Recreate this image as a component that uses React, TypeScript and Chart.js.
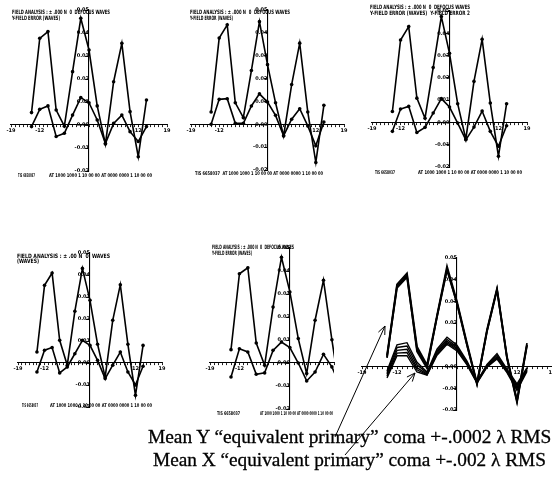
import React, { useEffect, useRef } from "react";
import { Chart, registerables } from "chart.js";

Chart.register(...registerables);

// Field positions (x) shared by every curve
const FIELD = [-14, -12, -10, -8, -6, -4, -2, 0, 2, 4, 6, 8, 10, 12, 14];
const X_LABELED = [-19, -12, 12, 19];
const Y_MIN = -0.02;
const Y_MAX = 0.05;
const Y_STEP = 0.01;

// Panel 1
const P1_UPPER = [0.0054, 0.0377, 0.0406, 0.0065, -0.0005, 0.0232, 0.0464, 0.0326, 0.0083, -0.0083, 0.0188, 0.0355, 0.0058, -0.0138, 0.0109];
const P1_LOWER = [-0.0007, 0.0068, 0.0083, -0.005, -0.0036, 0.0043, 0.0119, 0.0097, 0.0022, -0.008, 0.0007, 0.0043, -0.0029, -0.0072, -0.0007];
// Panel 2
const P2_UPPER = [0.0054, 0.0377, 0.0435, 0.0094, 0.0029, 0.0235, 0.0449, 0.0261, 0.0094, -0.0051, 0.0174, 0.0355, 0.0054, -0.0167, 0.0083];
const P2_LOWER = [0.0, 0.0109, 0.0112, 0.0004, 0.0004, 0.008, 0.0133, 0.0097, 0.0039, -0.005, 0.0022, 0.0068, -0.0007, -0.0094, 0.001];
// Panel 3
const P3_UPPER = [0.0049, 0.037, 0.043, 0.0109, 0.0019, 0.0246, 0.0475, 0.031, 0.0084, -0.0075, 0.0184, 0.0373, 0.0087, -0.0152, 0.0084];
const P3_LOWER = [-0.004, 0.006, 0.0072, -0.0045, -0.0022, 0.0042, 0.0107, 0.0069, -0.0003, -0.0078, -0.0021, 0.0051, -0.004, -0.0107, -0.0015];
// Panel 4
const P4_UPPER = [0.005, 0.0353, 0.0409, 0.0103, -0.001, 0.0235, 0.043, 0.0285, 0.0085, -0.0064, 0.0194, 0.0356, 0.0085, -0.0147, 0.008];
const P4_LOWER = [-0.0041, 0.0058, 0.007, -0.0045, -0.0018, 0.0042, 0.0103, 0.008, 0.0012, -0.0071, -0.001, 0.005, -0.0041, -0.01, -0.0015];
// Panel 5
const P5_UPPER = [0.0058, 0.0388, 0.0414, 0.0087, -0.001, 0.0243, 0.046, 0.0309, 0.0106, -0.0046, 0.0186, 0.036, 0.0101, -0.014, 0.009];
const P5_LOWER = [-0.0061, 0.0062, 0.0048, -0.0049, -0.0043, 0.0055, 0.0091, 0.0067, 0.0, -0.0078, -0.0039, 0.0038, -0.0017, -0.01, -0.0015];
// Panel 6 (overlay of all runs)
const P6_UPPER_A = [0.0052, 0.0378, 0.043, 0.0092, 0.0008, 0.0236, 0.0462, 0.03, 0.0108, -0.0075, 0.017, 0.036, 0.0045, -0.0155, 0.0108];
const P6_UPPER_B = [0.0045, 0.0362, 0.0412, 0.008, -0.0002, 0.0228, 0.0445, 0.029, 0.0098, -0.0082, 0.0162, 0.0352, 0.0038, -0.0165, 0.0098];
const P6_UPPER_C = [0.004, 0.037, 0.042, 0.007, -0.0008, 0.023, 0.045, 0.0292, 0.01, -0.008, 0.0164, 0.0355, 0.004, -0.016, 0.01];
const P6_LOWER_A = [-0.002, 0.01, 0.011, 0.002, -0.0025, 0.008, 0.0135, 0.0098, 0.0025, -0.0068, 0.001, 0.006, -0.0012, -0.008, -0.0005];
const P6_LOWER_B = [-0.0028, 0.0088, 0.0095, 0.0008, -0.003, 0.0072, 0.0125, 0.009, 0.002, -0.007, 0.0006, 0.0052, -0.0016, -0.0088, -0.001];
const P6_LOWER_C = [-0.0036, 0.0075, 0.008, -0.0005, -0.0035, 0.0065, 0.0117, 0.0084, 0.0015, -0.0072, 0.0003, 0.0045, -0.002, -0.0095, -0.0014];
const P6_LOWER_D = [-0.0044, 0.0062, 0.0065, -0.0015, -0.0038, 0.0058, 0.011, 0.0078, 0.0012, -0.0074, 0.0, 0.004, -0.0024, -0.0102, -0.0018];
const P6_LOWER_E = [-0.0052, 0.005, 0.005, -0.0025, -0.004, 0.0052, 0.0103, 0.0072, 0.0008, -0.0076, -0.0003, 0.0035, -0.0028, -0.011, -0.0022];

const CAPTION_Y = "Mean Y \u201Cequivalent primary\u201D coma +-.0002 \u03BB RMS";
const CAPTION_X = "Mean X \u201Cequivalent primary\u201D coma +-.002 \u03BB RMS";

type Txt = { text: string; x: number; y: number; w: number; size: number };
type Line = { values: number[]; width: number; points: boolean };
type PanelCfg = {
  area: { left: number; top: number; right: number; bottom: number };
  xMax: number;
  lines: Line[];
  texts: Txt[];
};

const HDR1 = "FIELD ANALYSIS : \u00B1 .000 N  0  DEFOCUS WAVES";
const HDR2 = "Y-FIELD ERROR (WAVES)";
const FTR_A = "TIS 6658037";
const FTR_B = "AT 1000 1000 1 10 00 00 AT 0000 0000 1 10 00 00";

const two = (u: number[], l: number[]): Line[] => [
  { values: u, width: 1.6, points: true },
  { values: l, width: 1.6, points: true },
];

const PANELS: PanelCfg[] = [
  {
    area: { left: 11, top: 10, right: 167, bottom: 171 },
    xMax: 19,
    lines: two(P1_UPPER, P1_LOWER),
    texts: [
      { text: HDR1, x: 12, y: 14, w: 98, size: 6 },
      { text: HDR2, x: 12, y: 20, w: 48, size: 6 },
      { text: FTR_A, x: 18, y: 177, w: 17, size: 5 },
      { text: FTR_B, x: 49, y: 177, w: 103, size: 5 },
    ],
  },
  {
    area: { left: 191, top: 10, right: 344, bottom: 170 },
    xMax: 19,
    lines: two(P2_UPPER, P2_LOWER),
    texts: [
      { text: HDR1, x: 190, y: 14, w: 100, size: 6 },
      { text: HDR2, x: 190, y: 20, w: 43, size: 6 },
      { text: FTR_A + "  " + FTR_B, x: 195, y: 175, w: 128, size: 5 },
    ],
  },
  {
    area: { left: 372, top: 11, right: 527, bottom: 167 },
    xMax: 19,
    lines: two(P3_UPPER, P3_LOWER),
    texts: [
      { text: HDR1, x: 370, y: 9, w: 100, size: 6 },
      { text: HDR2 + "  Y-FIELD ERROR 2", x: 370, y: 15, w: 100, size: 6 },
      { text: FTR_A, x: 375, y: 174, w: 20, size: 5 },
      { text: FTR_B, x: 418, y: 174, w: 104, size: 5 },
    ],
  },
  {
    area: { left: 18, top: 253, right: 162, bottom: 407 },
    xMax: 19,
    lines: two(P4_UPPER, P4_LOWER),
    texts: [
      { text: "FIELD ANALYSIS : \u00B1 .00 N  0  WAVES", x: 17, y: 258, w: 93, size: 6 },
      { text: "(WAVES)", x: 17, y: 263, w: 22, size: 6 },
      { text: FTR_A, x: 22, y: 407, w: 16, size: 5 },
      { text: FTR_B, x: 50, y: 407, w: 102, size: 5 },
    ],
  },
  {
    area: { left: 210, top: 248, right: 334, bottom: 409 },
    xMax: 10.5,
    lines: two(P5_UPPER, P5_LOWER),
    texts: [
      { text: HDR1, x: 212, y: 249, w: 82, size: 6 },
      { text: HDR2, x: 212, y: 255, w: 40, size: 6 },
      { text: FTR_A, x: 217, y: 415, w: 23, size: 5 },
      { text: FTR_B, x: 260, y: 415, w: 73, size: 5 },
    ],
  },
  {
    area: { left: 362, top: 258, right: 552, bottom: 410 },
    xMax: 19,
    lines: [
      { values: P6_UPPER_A, width: 1.8, points: false },
      { values: P6_UPPER_B, width: 1.8, points: false },
      { values: P6_UPPER_C, width: 1.8, points: false },
      { values: P6_LOWER_A, width: 1.4, points: false },
      { values: P6_LOWER_B, width: 1.4, points: false },
      { values: P6_LOWER_C, width: 1.4, points: false },
      { values: P6_LOWER_D, width: 1.4, points: false },
      { values: P6_LOWER_E, width: 1.4, points: false },
    ],
    texts: [],
  },
];

const PAD = 14;
const TICK_FONT = { size: 5, weight: "bold" as const, family: "DejaVu Sans" };

function Panel({ cfg }: { cfg: PanelCfg }) {
  const ref = useRef<HTMLCanvasElement>(null);
  const left = cfg.area.left - PAD;
  const top = cfg.area.top - PAD;
  const w = cfg.area.right - cfg.area.left + 2 * PAD;
  const h = cfg.area.bottom - cfg.area.top + 2 * PAD;

  useEffect(() => {
    if (!ref.current) return;
    const textPlugin = {
      id: "panelText",
      afterDraw(chart: any) {
        const ctx = chart.ctx as CanvasRenderingContext2D;
        ctx.save();
        ctx.fillStyle = "#000";
        ctx.textBaseline = "alphabetic";
        for (const t of cfg.texts) {
          ctx.font = `bold ${t.size}px "DejaVu Sans"`;
          ctx.fillText(t.text, t.x - left, t.y - top, t.w);
        }
        ctx.restore();
      },
    };
    const chart = new Chart(ref.current, {
      type: "line",
      data: {
        datasets: cfg.lines.map((l) => ({
          data: FIELD.map((x, i) => ({ x, y: l.values[i] })),
          borderColor: "#000",
          borderWidth: l.width,
          pointRadius: l.points ? 1.8 : 0,
          pointBackgroundColor: "#000",
          pointBorderWidth: 0,
          tension: 0,
          fill: false,
        })),
      },
      options: {
        responsive: false,
        animation: false,
        devicePixelRatio: 1,
        layout: { padding: PAD },
        plugins: { legend: { display: false }, tooltip: { enabled: false }, title: { display: false } },
        scales: {
          x: {
            type: "linear",
            min: -19,
            max: cfg.xMax,
            position: { y: 0 } as any,
            ticks: {
              stepSize: 1,
              autoSkip: false,
              maxRotation: 0,
              font: TICK_FONT,
              color: "#000",
              padding: 1,
              callback: (v: any) => {
                const n = Number(v);
                const r = Math.round(n);
                return Math.abs(n - r) < 1e-6 && X_LABELED.includes(r) ? String(r) : "";
              },
            },
            grid: { drawOnChartArea: false, drawTicks: true, tickLength: 2, color: "#000", lineWidth: 0.9 },
            border: { display: true, color: "#000", width: 1.1 },
          },
          y: {
            type: "linear",
            min: Y_MIN,
            max: Y_MAX,
            position: { x: 0 } as any,
            ticks: {
              stepSize: Y_STEP,
              font: TICK_FONT,
              color: "#000",
              padding: 1,
              callback: (v: any) => Number(v).toFixed(2),
            },
            grid: { drawOnChartArea: false, drawTicks: true, tickLength: 3, color: "#000", lineWidth: 0.9 },
            border: { display: true, color: "#000", width: 1.1 },
          },
        },
      },
      plugins: [textPlugin],
    } as any);
    return () => chart.destroy();
  }, []);

  return (
    <canvas
      ref={ref}
      width={w}
      height={h}
      style={{ position: "absolute", left, top, width: w, height: h }}
    />
  );
}

function arrowHead(x1: number, y1: number, x2: number, y2: number, len: number, ang: number) {
  const a = Math.atan2(y1 - y2, x1 - x2);
  const p1 = [x2 + len * Math.cos(a + ang), y2 + len * Math.sin(a + ang)];
  const p2 = [x2 + len * Math.cos(a - ang), y2 + len * Math.sin(a - ang)];
  return `${p1[0]},${p1[1]} ${x2},${y2} ${p2[0]},${p2[1]}`;
}

const CAPTION_FONT = "'Liberation Serif', 'Times New Roman', serif";

export default function App() {
  return (
    <div
      style={{
        position: "absolute",
        left: 0,
        top: 0,
        width: 552,
        height: 493,
        overflow: "hidden",
        background: "#fff",
      }}
    >
      {PANELS.map((p, i) => (
        <Panel key={i} cfg={p} />
      ))}
      <svg width={552} height={493} style={{ position: "absolute", left: 0, top: 0 }}>
        <g stroke="#000" strokeWidth={1} fill="none">
          <line x1={335} y1={437} x2={385} y2={326} />
          <polyline points={arrowHead(335, 437, 385, 326, 9, 0.4)} />
          <line x1={345} y1={455} x2={415} y2={373} />
          <polyline points={arrowHead(345, 455, 415, 373, 9, 0.4)} />
        </g>
        <text x={148} y={443} fontFamily={CAPTION_FONT} fontSize={19.4} fill="#000" stroke="#000" strokeWidth={0.3}>
          {CAPTION_Y}
        </text>
        <text x={153} y={466} fontFamily={CAPTION_FONT} fontSize={19.3} fill="#000" stroke="#000" strokeWidth={0.3}>
          {CAPTION_X}
        </text>
      </svg>
    </div>
  );
}
